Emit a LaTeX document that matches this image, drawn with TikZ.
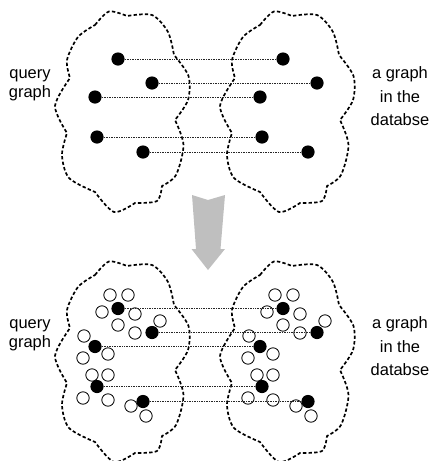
\documentclass[tikz,border=0pt]{standalone}
\usepackage{fontspec}
\setmainfont{Liberation Sans}
\usepackage{tikz}
\usetikzlibrary{calc,positioning}

\tikzset{
	cloudline/.style={line width=1.2pt,dash pattern=on 2.4pt off 1.6pt,line join=round},
	match/.style={shape=circle,fill=black,inner sep=0pt,minimum size=0.33cm},
	cand/.style={shape=circle,draw,line width=0.6pt,inner sep=0pt,minimum size=0.31cm},
	link/.style={line width=0.5pt,dash pattern=on 0.6pt off 0.6pt,black!85},
	querytext/.style={align=center,font=\fontsize{11.7}{13.6}\selectfont},
	dbtext/.style={align=center,font=\fontsize{11.7}{16.8}\selectfont}
}

% outline of one cloud, in pixels of the picture
\newcommand{\cloudOutline}{
	plot[smooth] coordinates {(95,25) (109,11.5) (127,16)}
	-- plot[smooth] coordinates {(127,16) (152,15) (168,32) (174,55)}
	-- plot[smooth] coordinates {(174,55) (188.5,76) (188,100) (175,120)}
	-- plot[smooth] coordinates {(175,120) (183.5,145) (176,175) (162,186)}
	-- plot[smooth] coordinates {(162,186) (157,201) (135,203)}
	-- plot[smooth] coordinates {(135,203) (114,212) (95,192)}
	-- plot[smooth] coordinates {(95,192) (69,178) (62,155) (67,133)}
	-- plot[smooth] coordinates {(67,133) (55,106) (70,78)}
	-- plot[smooth] coordinates {(70,78) (67,60) (78,37) (95,25)}
	-- cycle}

\begin{document}
\begin{tikzpicture}[x=0.025cm,y=-0.025cm]
\useasboundingbox (0,0) rectangle (433,461);

% clouds
\foreach \dx/\dy in {0/0,165/0,0/250,165/250}
{
	\draw[cloudline,shift={(\dx,\dy)}] \cloudOutline;
}

% arrow between the two rows
\fill[black!25] (192,195) -- (208,200) -- (225,195) -- (220.5,249) -- (225,249)
	-- (208,270) -- (191.5,249) -- (196,249) -- cycle;

% texts
\node[querytext,anchor=base] (queryTop) at (30,97.3) {query\\graph};
\node[dbtext,anchor=base] (dbTop) at (400,125.7) {a graph\\in the\\databse};
\node[querytext,anchor=base] (queryBottom) at (30,347.3) {query\\graph};
\node[dbtext,anchor=base] (dbBottom) at (400,375.7) {a graph\\in the\\databse};

% candidates around the matched vertices
\foreach \g/\x/\y/\offs in {1/118/308/{-8/-13,10/-13,-16/4,17/6,0/17},
	2/152/333/{8/-12,-17/0},
	3/95/346/{-11/-10,13/8,-12/12},
	4/97/387/{-5/-12,11/-12,-14/11,11/13},
	5/143/401/{-12/5,3/15}}
{
	\foreach \ox/\oy [count=\k] in \offs
	{
		\node[cand] (qc\g-\k) at (\x+\ox,\y+\oy) {};
		\node[cand] (dc\g-\k) at (\x+165+\ox,\y+\oy) {};
	}
}

% matched vertices
\foreach \name/\x/\y in {1/118/59, 2/152/83, 3/95/97, 4/97/137, 5/143/152}
{
	\node[match] (qa\name) at (\x,\y) {};
	\node[match] (da\name) at (\x+165,\y) {};
	\node[match] (qb\name) at (\x,\y+249.5) {};
	\node[match] (db\name) at (\x+165,\y+249.5) {};
}

\path
\foreach \startNode/\endNode in {qa1/da1,qa2/da2,qa3/da3,qa4/da4,qa5/da5,
	qb1/db1,qb2/db2,qb3/db3,qb4/db4,qb5/db5}
{
	(\startNode) edge[link] (\endNode)
};
\end{tikzpicture}
\end{document}
